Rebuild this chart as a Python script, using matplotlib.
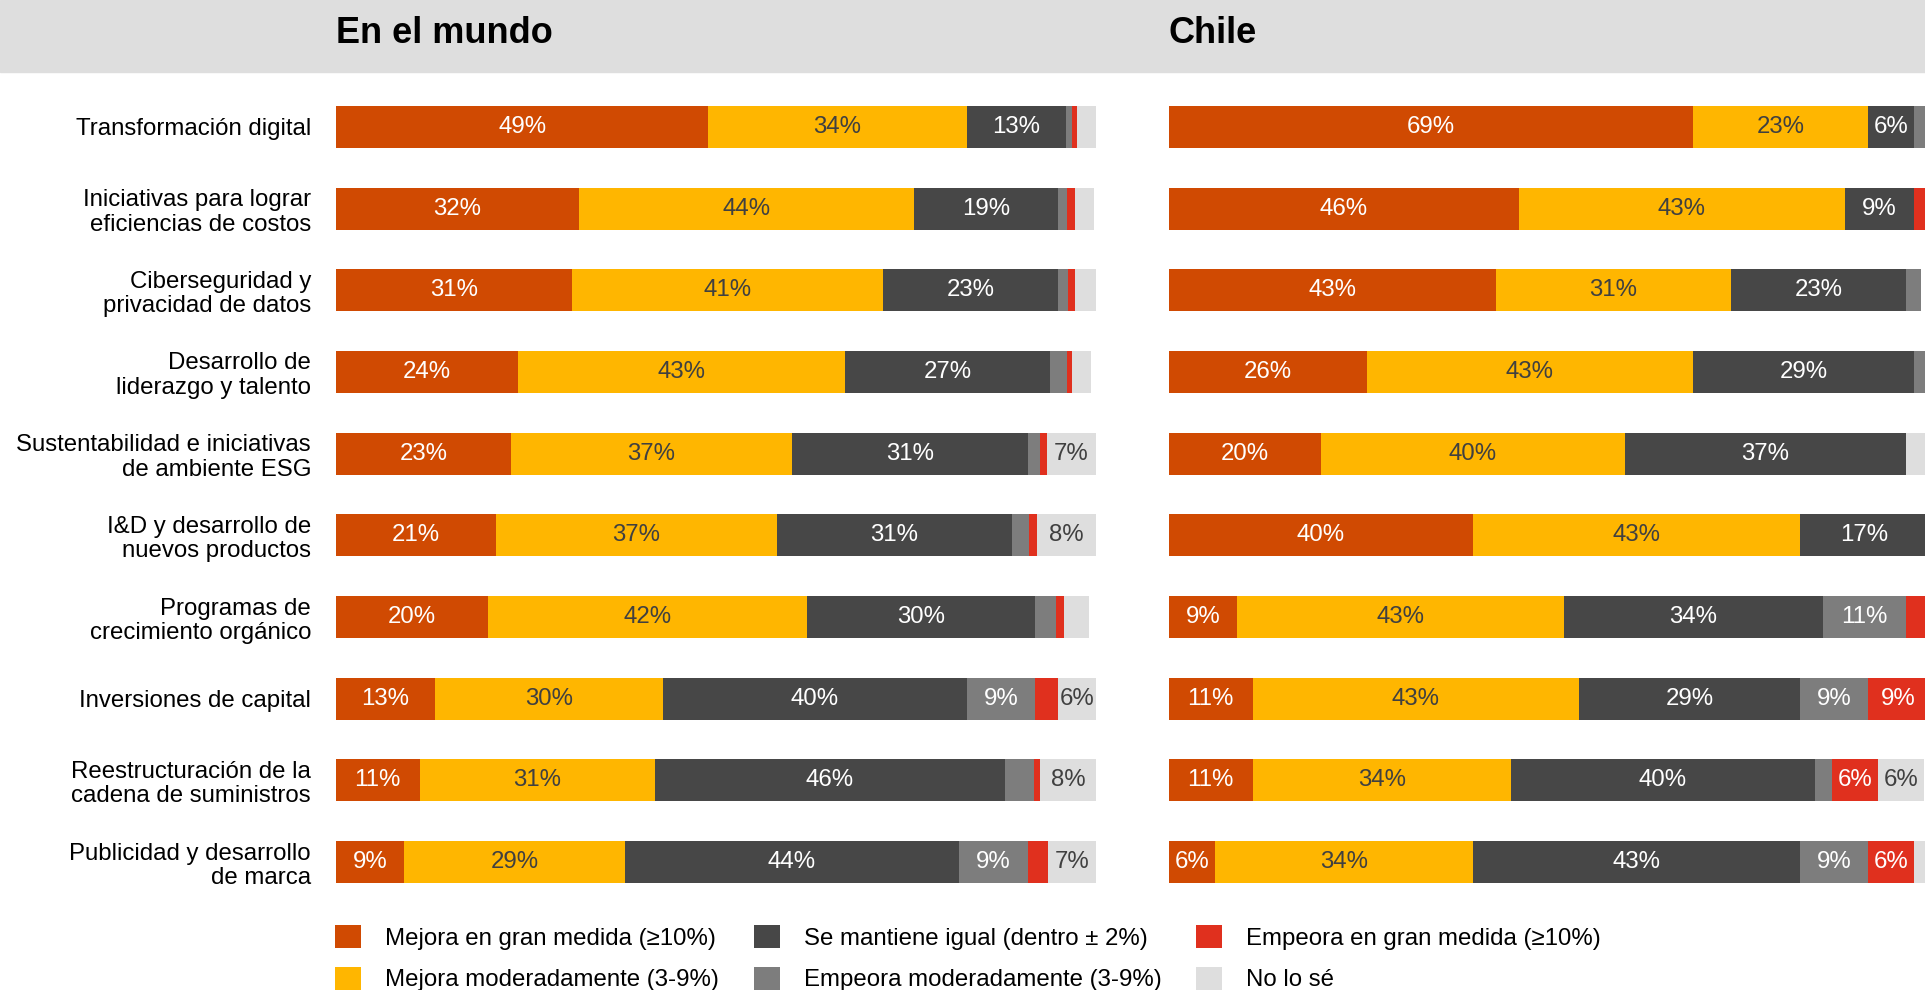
import matplotlib
matplotlib.use("Agg")
import matplotlib.pyplot as plt
from matplotlib.patches import Rectangle
import numpy as np

plt.rcParams['font.family'] = ['Liberation Sans', 'DejaVu Sans']

#==== data (percent of respondents)

categories = [
    "Transformación digital",
    "Iniciativas para lograr\neficiencias de costos",
    "Ciberseguridad y\nprivacidad de datos",
    "Desarrollo de\nliderazgo y talento",
    "Sustentabilidad e iniciativas\nde ambiente ESG",
    "I&D y desarrollo de\nnuevos productos",
    "Programas de\ncrecimiento orgánico",
    "Inversiones de capital",
    "Reestructuración de la\ncadena de suministros",
    "Publicidad y desarrollo\nde marca",
]

series_names = [
    "Mejora en gran medida (≥10%)",
    "Mejora moderadamente (3-9%)",
    "Se mantiene igual (dentro ± 2%)",
    "Empeora moderadamente (3-9%)",
    "Empeora en gran medida (≥10%)",
    "No lo sé",
]

mundo_mejora_gran = [49, 32, 31, 24, 23, 21, 20, 13, 11, 9]
mundo_mejora_mod = [34, 44, 41, 43, 37, 37, 42, 30, 31, 29]
mundo_igual = [13, 19, 23, 27, 31, 31, 30, 40, 46, 44]
mundo_empeora_mod = [0.8, 1.2, 1.3, 2.2, 1.6, 2.2, 2.8, 9, 3.8, 9]
mundo_empeora_gran = [0.7, 1.0, 0.9, 0.7, 0.9, 1.0, 1.0, 3, 0.8, 2.7]
mundo_no_se = [2.5, 2.5, 2.8, 2.5, 7, 8, 3.3, 6, 8, 7]

chile_mejora_gran = [69, 46, 43, 26, 20, 40, 9, 11, 11, 6]
chile_mejora_mod = [23, 43, 31, 43, 40, 43, 43, 43, 34, 34]
chile_igual = [6, 9, 23, 29, 37, 17, 34, 29, 40, 43]
chile_empeora_mod = [2, 0, 2, 2, 0, 0, 11, 9, 2.3, 9]
chile_empeora_gran = [0, 2, 0, 0, 0, 0, 3, 9, 6, 6]
chile_no_se = [0, 0, 0, 0, 3, 0, 0, 0, 6, 2]

colors = ["#D04A02", "#FFB600", "#474747", "#7D7D7D", "#E0301E", "#DEDEDE"]
text_colors = ["white", "#404040", "white", "white", "white", "#404040"]

mundo = [mundo_mejora_gran, mundo_mejora_mod, mundo_igual,
         mundo_empeora_mod, mundo_empeora_gran, mundo_no_se]
chile = [chile_mejora_gran, chile_mejora_mod, chile_igual,
         chile_empeora_mod, chile_empeora_gran, chile_no_se]

W, H = 1925, 990
FS = 17.3


def drawPanel(ax, series):
    """
    stacked horizontal bars, labels only on the wide segments
    """
    y = np.arange(len(categories))
    left = np.zeros(len(categories))
    conts = []
    for vals, col, tcol, name in zip(series, colors, text_colors, series_names):
        vals = np.array(vals, dtype=float)
        bars = ax.barh(y, vals, left=left, height=0.514, color=col,
                       linewidth=0, label=name)
        labs = [f"{v:.0f}%" if v >= 5 else "" for v in vals]
        ax.bar_label(bars, labels=labs, label_type="center", color=tcol,
                     fontsize=FS)
        left += vals
        conts.append(bars)
    ax.set_xlim(0, 100)
    ax.set_ylim(len(categories) - 0.5, -0.5)
    for s in ax.spines.values():
        s.set_visible(False)
    ax.set_xticks([])
    return conts


fig = plt.figure(figsize=(W / 100, H / 100), dpi=100)

# grey header band
fig.patches.append(Rectangle((0, 1 - 72 / H), 1, 72 / H, transform=fig.transFigure,
                             color="#DEDEDE", zorder=0))

ax_bottom = 1 - 903 / H
ax_height = (903 - 86) / H
ax1 = fig.add_axes([336 / W, ax_bottom, 760 / W, ax_height])
ax2 = fig.add_axes([1169 / W, ax_bottom, 760 / W, ax_height])

handles = drawPanel(ax1, mundo)
drawPanel(ax2, chile)

ax1.set_yticks(np.arange(len(categories)))
ax1.set_yticklabels(categories, fontsize=FS, linespacing=1.15)
ax1.tick_params(axis="y", length=0, pad=18)
ax2.set_yticks([])

fig.text(336 / W, 1 - 43 / H, "En el mundo", fontsize=26, fontweight="bold",
         va="baseline", ha="left")
fig.text(1169 / W, 1 - 43 / H, "Chile", fontsize=26, fontweight="bold",
         va="baseline", ha="left")

fig.legend(handles=handles, labels=series_names, ncol=3, loc="upper left",
           bbox_to_anchor=(335 / W, 1 - 925 / H), frameon=False, fontsize=FS,
           borderpad=0, borderaxespad=0, handlelength=1.08, handleheight=1.08,
           handletextpad=1.0, labelspacing=0.72, columnspacing=1.45)

plt.savefig("out.png", dpi=100)
